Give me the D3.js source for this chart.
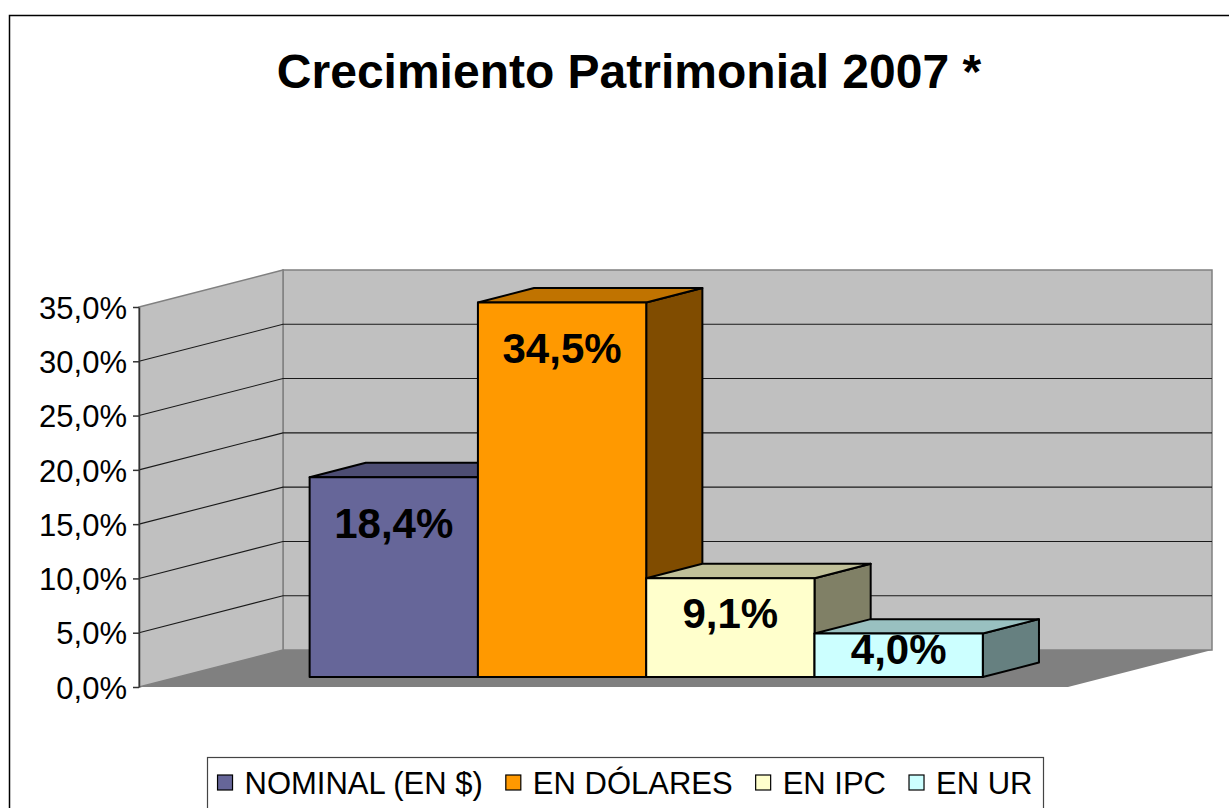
<!DOCTYPE html>
<html>
<head>
<meta charset="utf-8">
<script src="https://cdn.jsdelivr.net/npm/d3@7"></script>
<style>
  html, body { margin: 0; padding: 0; background: #fff; }
  svg { display: block; font-family: "Liberation Sans", Arial, sans-serif; }
</style>
</head>
<body>
<svg id="chart"></svg>
<script>
/// data ///
const series = ["NOMINAL (EN $)", "EN DÓLARES", "EN IPC", "EN UR"];
const values = [0.184, 0.345, 0.091, 0.040];
const yTicks = [0, 0.05, 0.10, 0.15, 0.20, 0.25, 0.30, 0.35];
const title = "Crecimiento Patrimonial 2007 *";

/// colours: front, top, side ///
const fronts = ["#666699", "#FF9900", "#FFFFCC", "#CCFFFF"];
const tops = ["#4d4d73", "#c07300", "#c0c099", "#99c0c0"];
const sides = ["#333366", "#804c00", "#808066", "#668080"];

/// dimensions ///
const width = 1229;
const height = 808;
const plot = {left: 139, right: 1068, top: 307, bottom: 687};
const depth = {dx: 144, dy: -37};   // front plane -> back wall
const barDepth = [0.27, 0.66];      // bar sits between these depth fractions

const locale = d3.formatLocale({decimal: ",", thousands: ".", grouping: [3], currency: ["$", ""]});
const fmtPct = locale.format(".1%");

/// scales ///
const x = d3.scaleBand()
  .domain(series)
  .range([plot.left, plot.right])
  .paddingInner(0)
  .paddingOuter(0.76)
  .align(0.515);

const y = d3.scaleLinear()
  .domain([0, 0.35])
  .range([plot.bottom, plot.top]);

// project a point of the front plane back by a depth fraction
const P = (px, v, d) => [px + depth.dx * d, y(v) + depth.dy * d];

const svg = d3.select("#chart")
  .attr("width", width)
  .attr("height", height);

// outer chart border
svg.append("rect")
  .attr("x", 9.5).attr("y", 15.5)
  .attr("width", width + 20).attr("height", height + 20)
  .attr("fill", "#fff")
  .attr("stroke", "#000")
  .attr("stroke-width", 1.5);

// title
svg.append("text")
  .attr("x", 629)
  .attr("y", 88)
  .attr("text-anchor", "middle")
  .attr("font-size", 48)
  .attr("font-weight", "bold")
  .text(title);

/// walls and floor ///
const walls = svg.append("g");
const yMax = y.domain()[1];

// back wall
const bw0 = P(plot.left, yMax, 1), bw1 = P(plot.right, 0, 1);
walls.append("rect")
  .attr("x", bw0[0]).attr("y", bw0[1])
  .attr("width", bw1[0] - bw0[0]).attr("height", bw1[1] - bw0[1])
  .attr("fill", "#c0c0c0")
  .attr("stroke", "#808080")
  .attr("stroke-width", 1.5);

// side wall
walls.append("polygon")
  .attr("points", [P(plot.left, yMax, 0), P(plot.left, yMax, 1), P(plot.left, 0, 1), P(plot.left, 0, 0)].join(" "))
  .attr("fill", "#c0c0c0")
  .attr("stroke", "#808080")
  .attr("stroke-width", 1.5);

// floor
walls.append("polygon")
  .attr("points", [P(plot.left, 0, 0), P(plot.left, 0, 1), P(plot.right, 0, 1), P(plot.right, 0, 0)].join(" "))
  .attr("fill", "#808080");

// gridlines (side wall + back wall)
const inner = yTicks.filter(v => v > 0 && v < yMax);
walls.selectAll("path.grid")
  .data(inner)
  .join("path")
    .attr("class", "grid")
    .attr("fill", "none")
    .attr("stroke", "#1a1a1a")
    .attr("stroke-width", 1.1)
    .attr("d", v => d3.line()([P(plot.left, v, 0), P(plot.left, v, 1), P(plot.right, v, 1)]));

/// y axis ///
svg.append("g")
  .attr("transform", `translate(${plot.left},0)`)
  .call(d3.axisLeft(y).tickValues(yTicks).tickFormat(fmtPct).tickSize(6).tickSizeOuter(0).tickPadding(6))
  .call(g => g.select(".domain").attr("stroke", "#333").attr("stroke-width", 1.5))
  .call(g => g.selectAll(".tick line").attr("stroke", "#333").attr("stroke-width", 1.5))
  .call(g => g.selectAll(".tick text")
      .attr("font-size", 31)
      .attr("font-family", "Liberation Sans, Arial, sans-serif")
      .attr("fill", "#000")
      .attr("dy", "0.36em"));

/// bars ///
const bars = svg.append("g")
  .attr("stroke", "#000")
  .attr("stroke-width", 2)
  .attr("stroke-linejoin", "round");

series.forEach((s, i) => {
  const x0 = x(s), x1 = x(s) + x.bandwidth();
  const v = values[i];
  const [d0, d1] = barDepth;
  // side face
  bars.append("polygon")
    .attr("points", [P(x1, v, d0), P(x1, v, d1), P(x1, 0, d1), P(x1, 0, d0)].join(" "))
    .attr("fill", sides[i]);
  // top face
  bars.append("polygon")
    .attr("points", [P(x0, v, d0), P(x0, v, d1), P(x1, v, d1), P(x1, v, d0)].join(" "))
    .attr("fill", tops[i]);
  // front face
  const f0 = P(x0, v, d0), f1 = P(x1, 0, d0);
  bars.append("rect")
    .attr("x", f0[0]).attr("y", f0[1])
    .attr("width", f1[0] - f0[0]).attr("height", f1[1] - f0[1])
    .attr("fill", fronts[i]);
});

// value labels, inside the front face near its top
svg.append("g")
  .selectAll("text")
  .data(series)
  .join("text")
    .attr("font-size", 42)
    .attr("font-weight", "bold")
    .attr("text-anchor", "middle")
    .attr("x", s => P(x(s) + x.bandwidth() / 2, 0, barDepth[0])[0])
    .attr("y", (s, i) => {
      const top = P(0, values[i], barDepth[0])[1];
      const h = y(0) - y(values[i]);
      return top + Math.min(46, h * 0.35) + 15;
    })
    .text((s, i) => fmtPct(values[i]));

/// legend ///
const legend = svg.append("g");
legend.append("rect")
  .attr("x", 207.5).attr("y", 757.5)
  .attr("width", 836).attr("height", 80)
  .attr("fill", "#fff")
  .attr("stroke", "#444")
  .attr("stroke-width", 1.2);

const items = legend.selectAll("g.item")
  .data(series)
  .join("g")
    .attr("class", "item");

items.append("rect")
  .attr("width", 15).attr("height", 15)
  .attr("y", 775)
  .attr("fill", (s, i) => fronts[i])
  .attr("stroke", "#000")
  .attr("stroke-width", 1.2);

items.append("text")
  .attr("x", 27)
  .attr("y", 794)
  .attr("font-size", 31)
  .text(s => s);

// lay items out side by side, centred in the box
const gap = 23;
const widths = items.nodes().map(n => 27 + n.querySelector("text").getComputedTextLength());
const total = d3.sum(widths) + gap * (widths.length - 1);
let cx = 207 + 836 / 2 - total / 2;
items.each(function (s, i) {
  d3.select(this).attr("transform", `translate(${cx},0)`);
  cx += widths[i] + gap;
});
</script>
</body>
</html>
